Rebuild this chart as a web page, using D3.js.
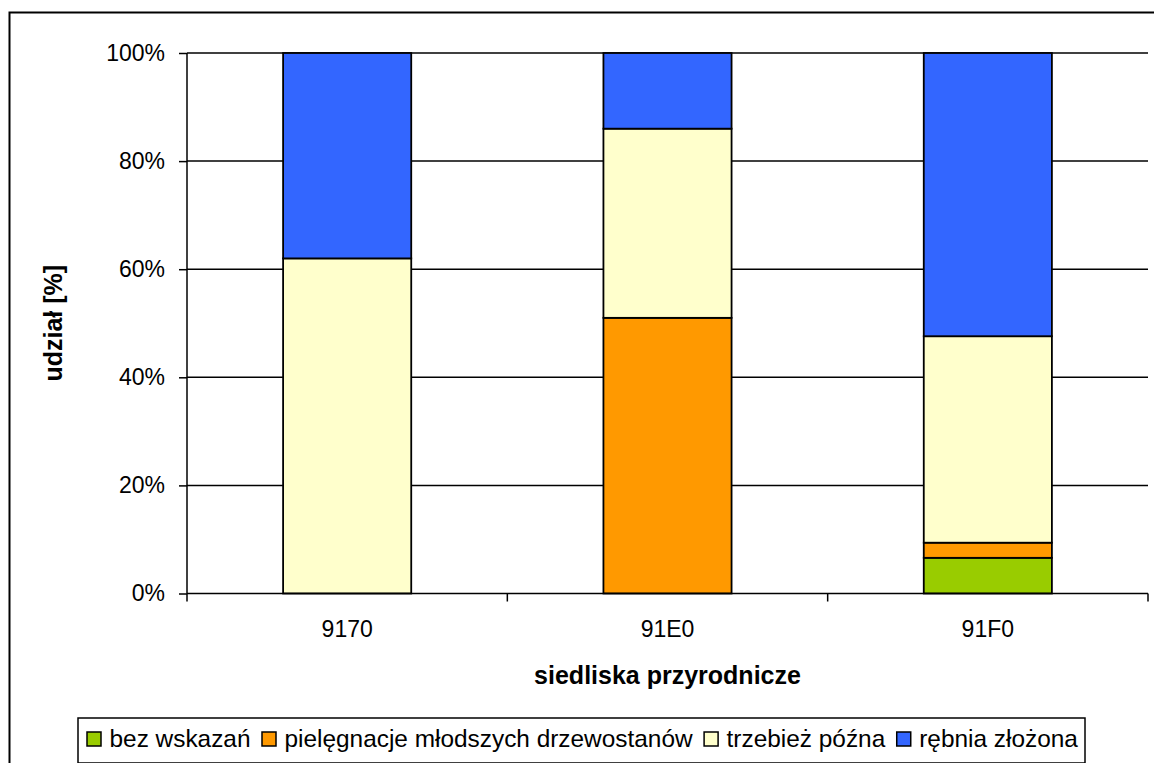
<!DOCTYPE html>
<html lang="pl">
<head>
  <meta charset="UTF-8" />
  <title>udział zabiegów w siedliskach przyrodniczych</title>
  <style>
    body { margin: 0; background: #fff; }
    svg { display: block; font-family: "Liberation Sans", Arial, sans-serif; }
  </style>
</head>
<body>
  <svg id="chart"></svg>

  <script src="https://d3js.org/d3.v7.min.js"></script>
  <script>
    // data (percent share per habitat)
    const categories = ["9170", "91E0", "91F0"];
    const seriesNames = ["bez wskazań", "pielęgnacje młodszych drzewostanów", "trzebież późna", "rębnia złożona"];
    const bezWskazan = [0, 0, 6.6];
    const pielegnacje = [0, 51, 2.8];
    const trzebiez = [62, 35, 38.2];
    const rebnia = [38, 14, 52.4];
    const yTicks = [0, 20, 40, 60, 80, 100];
    const colors = ["#99CC00", "#FF9900", "#FFFFCC", "#3366FF"];

    const W = 1154, H = 763;
    const plot = { left: 187, top: 53, right: 1148, bottom: 593.5 };

    const svg = d3.select("#chart").attr("width", W).attr("height", H);

    // outer chart frame (runs past the right/bottom edge of the picture)
    svg.append("rect")
      .attr("x", 9.5).attr("y", 12.5)
      .attr("width", 1160).attr("height", 780)
      .attr("fill", "none").attr("stroke", "#000").attr("stroke-width", 2);

    const table = categories.map((c, i) => ({
      cat: c,
      [seriesNames[0]]: bezWskazan[i],
      [seriesNames[1]]: pielegnacje[i],
      [seriesNames[2]]: trzebiez[i],
      [seriesNames[3]]: rebnia[i]
    }));
    const stacked = d3.stack().keys(seriesNames)(table);

    const x = d3.scaleBand()
      .domain(categories)
      .range([plot.left, plot.right])
      .paddingInner(0.6)
      .paddingOuter(0.3);

    const y = d3.scaleLinear()
      .domain([0, 100])
      .range([plot.bottom, plot.top]);

    // gridlines
    svg.append("g")
      .selectAll("line")
      .data(yTicks.filter(d => d > 0))
      .join("line")
      .attr("x1", plot.left).attr("x2", plot.right)
      .attr("y1", d => y(d)).attr("y2", d => y(d))
      .attr("stroke", "#000").attr("stroke-width", 1.5);

    // bars
    svg.append("g")
      .selectAll("g")
      .data(stacked)
      .join("g")
      .attr("fill", (d, i) => colors[i])
      .selectAll("rect")
      .data(d => d.filter(s => s[1] - s[0] > 0))
      .join("rect")
      .attr("x", d => x(d.data.cat))
      .attr("y", d => y(d[1]))
      .attr("width", x.bandwidth())
      .attr("height", d => y(d[0]) - y(d[1]))
      .attr("stroke", "#000")
      .attr("stroke-width", 1.8);

    // y axis
    const yAxis = svg.append("g")
      .attr("transform", `translate(${plot.left},0)`)
      .call(d3.axisLeft(y).tickValues(yTicks).tickSize(8).tickPadding(14).tickFormat(d => d + "%"));
    yAxis.select(".domain").attr("stroke-width", 1.5).attr("d", `M0,${plot.top}V${plot.bottom}`);
    yAxis.selectAll(".tick line").attr("stroke-width", 1.5);
    yAxis.selectAll("text").attr("font-size", 23).attr("font-family", "Liberation Sans, Arial, sans-serif").attr("fill", "#000");

    // x axis: tick marks at category boundaries
    const xAxis = svg.append("g")
      .attr("transform", `translate(0,${plot.bottom})`)
      .call(d3.axisBottom(x).tickSize(0).tickPadding(27));
    xAxis.select(".domain").attr("stroke-width", 1.5).attr("d", `M${plot.left},0H${plot.right}`);
    xAxis.selectAll("text").attr("font-size", 23).attr("font-family", "Liberation Sans, Arial, sans-serif").attr("fill", "#000");
    const bounds = d3.range(categories.length + 1).map(i => plot.left + i * (plot.right - plot.left) / categories.length);
    xAxis.selectAll(".bound")
      .data(bounds)
      .join("line")
      .attr("class", "bound")
      .attr("x1", d => d).attr("x2", d => d)
      .attr("y1", 0).attr("y2", 8)
      .attr("stroke", "#000").attr("stroke-width", 1.5);

    // axis titles
    svg.append("text")
      .attr("x", (plot.left + plot.right) / 2)
      .attr("y", 684)
      .attr("text-anchor", "middle")
      .attr("font-size", 25).attr("font-weight", "bold")
      .text("siedliska przyrodnicze");

    svg.append("text")
      .attr("transform", `translate(62,${(plot.top + plot.bottom) / 2}) rotate(-90)`)
      .attr("text-anchor", "middle")
      .attr("font-size", 25).attr("font-weight", "bold")
      .text("udział [%]");

    // legend
    const legend = svg.append("g");
    const lgBox = { x: 78, y: 718, w: 1007, h: 45 };
    legend.append("rect")
      .attr("x", lgBox.x).attr("y", lgBox.y)
      .attr("width", lgBox.w).attr("height", lgBox.h)
      .attr("fill", "#fff").attr("stroke", "#000").attr("stroke-width", 1.5);

    const items = legend.selectAll(".item")
      .data(seriesNames)
      .join("g")
      .attr("class", "item");
    items.append("rect")
      .attr("width", 14).attr("height", 14)
      .attr("fill", (d, i) => colors[i])
      .attr("stroke", "#000").attr("stroke-width", 1.5);
    items.append("text")
      .attr("x", 22.5).attr("y", 15)
      .attr("font-size", 24.4)
      .text(d => d);

    let cx = 87;
    items.each(function () {
      const g = d3.select(this);
      g.attr("transform", `translate(${cx},732)`);
      cx += 22.5 + g.select("text").node().getComputedTextLength() + 11.5;
    });
  </script>
</body>
</html>
